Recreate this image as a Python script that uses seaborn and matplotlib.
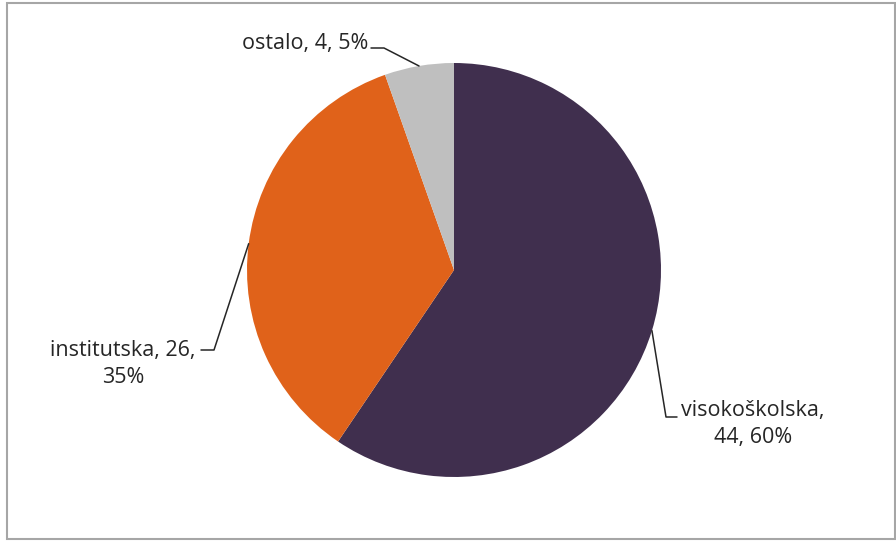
import numpy as np
import matplotlib
matplotlib.use("Agg")
import matplotlib.pyplot as plt
import seaborn as sns
from matplotlib.patches import Rectangle

categories = ["visokoškolska", "institutska", "ostalo"]
counts = [44, 26, 4]
percents = [60, 35, 5]
colors = ["#402f4e", "#e0621a", "#bfbfbf"]

sns.set_theme(style="white")
plt.rcParams["font.family"] = ["Open Sans", "DejaVu Sans"]

W, H = 896, 541
fig = plt.figure(figsize=(W / 100, H / 100), dpi=100)
ax = fig.add_axes([0, 0, 1, 1])

cx, cy, r = 454, H - 270, 207
wedges, _ = ax.pie(
    counts,
    colors=colors,
    startangle=90,
    counterclock=False,
    center=(cx, cy),
    radius=r,
    frame=True,
    wedgeprops=dict(linewidth=0),
)
ax.set_xlim(0, W)
ax.set_ylim(0, H)
ax.set_aspect("equal")
ax.axis("off")

# frame around the chart area
fig.patches.append(Rectangle((7 / W, 2 / H), 888 / W, 536 / H, transform=fig.transFigure,
                             fill=False, edgecolor="#a6a6a6", linewidth=1.5))


def edge_point(w):
    a = np.deg2rad((w.theta1 + w.theta2) / 2)
    return cx + r * np.cos(a), cy + r * np.sin(a)


# label layout: (text position, ha, leader bend points)
layout = {
    "ostalo": ((368, 44), "right", [(371, 48), (384, 48)]),
    "institutska": ((123, 364), "center", [(201, 350), (214, 350)]),
    "visokoškolska": ((753, 424), "center", [(677, 417), (666, 417)]),
}
texts = {
    "ostalo": "ostalo, {c}, {p}%",
    "institutska": "institutska, {c},\n{p}%",
    "visokoškolska": "visokoškolska,\n{c}, {p}%",
}

for w, cat, c, p in zip(wedges, categories, counts, percents):
    (tx, ty), ha, bends = layout[cat]
    ax.text(tx, H - ty, texts[cat].format(c=c, p=p), ha=ha, va="center",
            multialignment="center", fontsize=15.5, color="#262626", linespacing=1.4)
    ex, ey = edge_point(w)
    xs = [b[0] for b in bends] + [ex]
    ys = [H - b[1] for b in bends] + [ey]
    ax.plot(xs, ys, color="#262626", lw=1.1)

fig.savefig("out.png", dpi=100)
